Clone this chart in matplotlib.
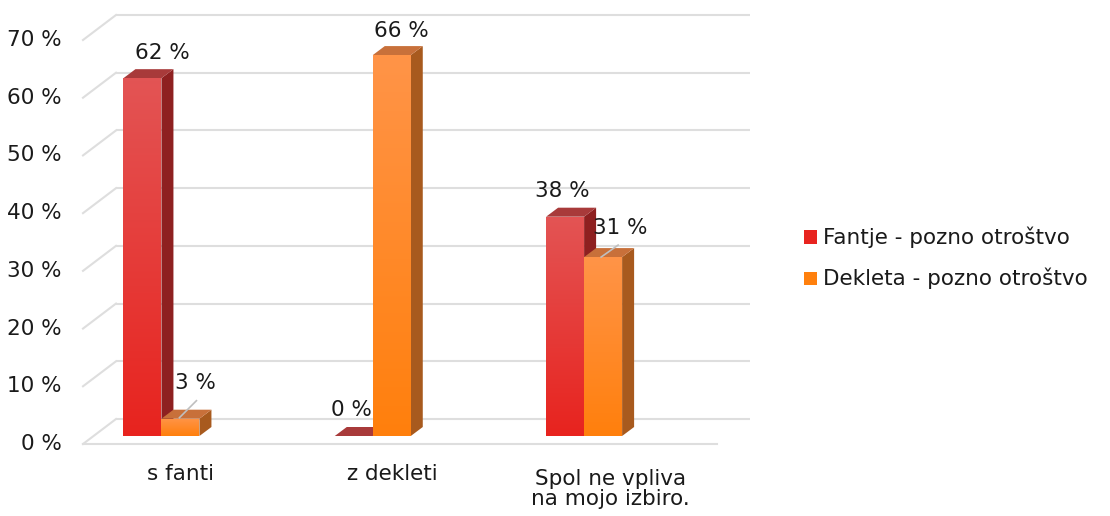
import numpy as np
import matplotlib
matplotlib.use("Agg")
import matplotlib.pyplot as plt
from matplotlib.patches import Polygon, Rectangle
from matplotlib.colors import LinearSegmentedColormap

plt.rcParams['font.family'] = ['DejaVu Sans']

categories = ["s fanti", "z dekleti", "Spol ne vpliva\nna mojo izbiro."]
series_names = ["Fantje - pozno otroštvo", "Dekleta - pozno otroštvo"]
fantje = [62, 0, 38]
dekleta = [3, 66, 31]
yticks = [0, 10, 20, 30, 40, 50, 60, 70]
ytick_labels = [f"{v} %" for v in yticks]

W, H = 1110, 516
fig = plt.figure(figsize=(W / 100, H / 100), dpi=100)
# axes = bar plane
ax = fig.add_axes([93.6 / W, 80 / H, 634 / W, 404 / H])
ax.set_xlim(-0.321, 2.679)
ax.set_ylim(0, 70)
ax.axis("off")

pxx = 634 / 3.0          # pixels per x unit
pxy = 404 / 70.0         # pixels per %

def dx(p):
    return p / pxx

def dy(p):
    return p / pxy

FS = 15.5
grid_c = "#dedede"

# back wall offset and front offset (pixels, y up)
back = (22.4, 17)
front = (-10.6, -8)
x0, x1 = ax.get_xlim()
for v in yticks:
    ax.plot([x0 + dx(back[0]), x1 + dx(back[0])], [v + dy(back[1])] * 2,
            color=grid_c, lw=1.5, zorder=0, clip_on=False, solid_capstyle="butt")
    ax.plot([x0 + dx(front[0]), x0 + dx(back[0])], [v + dy(front[1]), v + dy(back[1])],
            color=grid_c, lw=1.5, zorder=0, clip_on=False)
ax.plot([x0 + dx(front[0]), x1 + dx(front[0])], [dy(front[1])] * 2,
        color=grid_c, lw=1.5, zorder=0, clip_on=False)

for v, lab in zip(yticks, ytick_labels):
    ax.text(x0 + dx(front[0]) - dx(21), v + dy(front[1]), lab, ha="right", va="center",
            fontsize=FS, color="#1a1a1a", clip_on=False)

bw = 38 / pxx
depth = (12, 9)
xpos = np.arange(len(categories))

styles = [
    dict(top=(0.89, 0.33, 0.33), bot=(0.91, 0.14, 0.12), side="#8e2020", cap="#a83a3a"),
    dict(top=(1.0, 0.58, 0.28), bot=(1.0, 0.50, 0.05), side="#a85a1e", cap="#c8703a"),
]

def draw_bar(xl, v, st):
    ddx, ddy = dx(depth[0]), dy(depth[1])
    side = Polygon([(xl + bw, 0), (xl + bw, v), (xl + bw + ddx, v + ddy), (xl + bw + ddx, ddy)],
                   closed=True, facecolor=st["side"], edgecolor="none", zorder=2)
    ax.add_patch(side)
    cap = Polygon([(xl, v), (xl + bw, v), (xl + bw + ddx, v + ddy), (xl + ddx, v + ddy)],
                  closed=True, facecolor=st["cap"], edgecolor="none", zorder=2)
    ax.add_patch(cap)
    if v > 0:
        rect = Rectangle((xl, 0), bw, v, facecolor="none", edgecolor="none", zorder=3)
        ax.add_patch(rect)
        cmap = LinearSegmentedColormap.from_list("g", [st["bot"], st["top"]])
        grad = np.linspace(0, 1, 100).reshape(-1, 1)
        im = ax.imshow(grad, cmap=cmap, origin="lower", extent=(xl, xl + bw, 0, v),
                       aspect="auto", zorder=3, interpolation="bilinear")
        im.set_clip_path(rect)

for i in range(len(categories)):
    draw_bar(xpos[i] - bw, fantje[i], styles[0])
    draw_bar(xpos[i], dekleta[i], styles[1])
ax.set_xlim(x0, x1)
ax.set_ylim(0, 70)

red_off = [(20, 25), (-2, 26), (-3, 26)]
ora_off = [(15, 36), (10, 24), (17, 29)]
for i in range(len(categories)):
    ax.annotate(f"{fantje[i]} %", (xpos[i] - bw / 2, fantje[i]), xytext=red_off[i],
                textcoords="offset pixels", ha="center", va="center", fontsize=FS,
                color="#1a1a1a", zorder=5)
    ax.annotate(f"{dekleta[i]} %", (xpos[i] + bw / 2, dekleta[i]), xytext=ora_off[i],
                textcoords="offset pixels", ha="center", va="center", fontsize=FS,
                color="#1a1a1a", zorder=5)

for i, (a, b) in [(0, ((-1, 1), (16, 18))), (2, ((-2, 0), (15, 12)))]:
    xb = xpos[i] + bw / 2
    ax.plot([xb + dx(a[0]), xb + dx(b[0])], [dekleta[i] + dy(a[1]), dekleta[i] + dy(b[1])],
            color="#bfbfbf", lw=1.2, zorder=4, clip_on=False)

cat_off = [(19, -38), (20, -38), (26, -53)]
for i, c in enumerate(categories):
    ax.text(xpos[i] + dx(cat_off[i][0]), dy(cat_off[i][1]), c, ha="center", va="center",
            fontsize=FS, color="#1a1a1a", linespacing=1.05, clip_on=False)

leg_cols = [styles[0]["bot"], styles[1]["bot"]]
leg_y = [237, 278]
for name, col, yy in zip(series_names, leg_cols, leg_y):
    fig.patches.append(Rectangle((804 / W, 1 - (yy + 6.5) / H), 13 / W, 13 / H,
                                 transform=fig.transFigure, facecolor=col,
                                 edgecolor="none"))
    fig.text(823 / W, 1 - yy / H, name, ha="left", va="center", fontsize=FS, color="#1a1a1a")

fig.savefig("out.png", dpi=100)
